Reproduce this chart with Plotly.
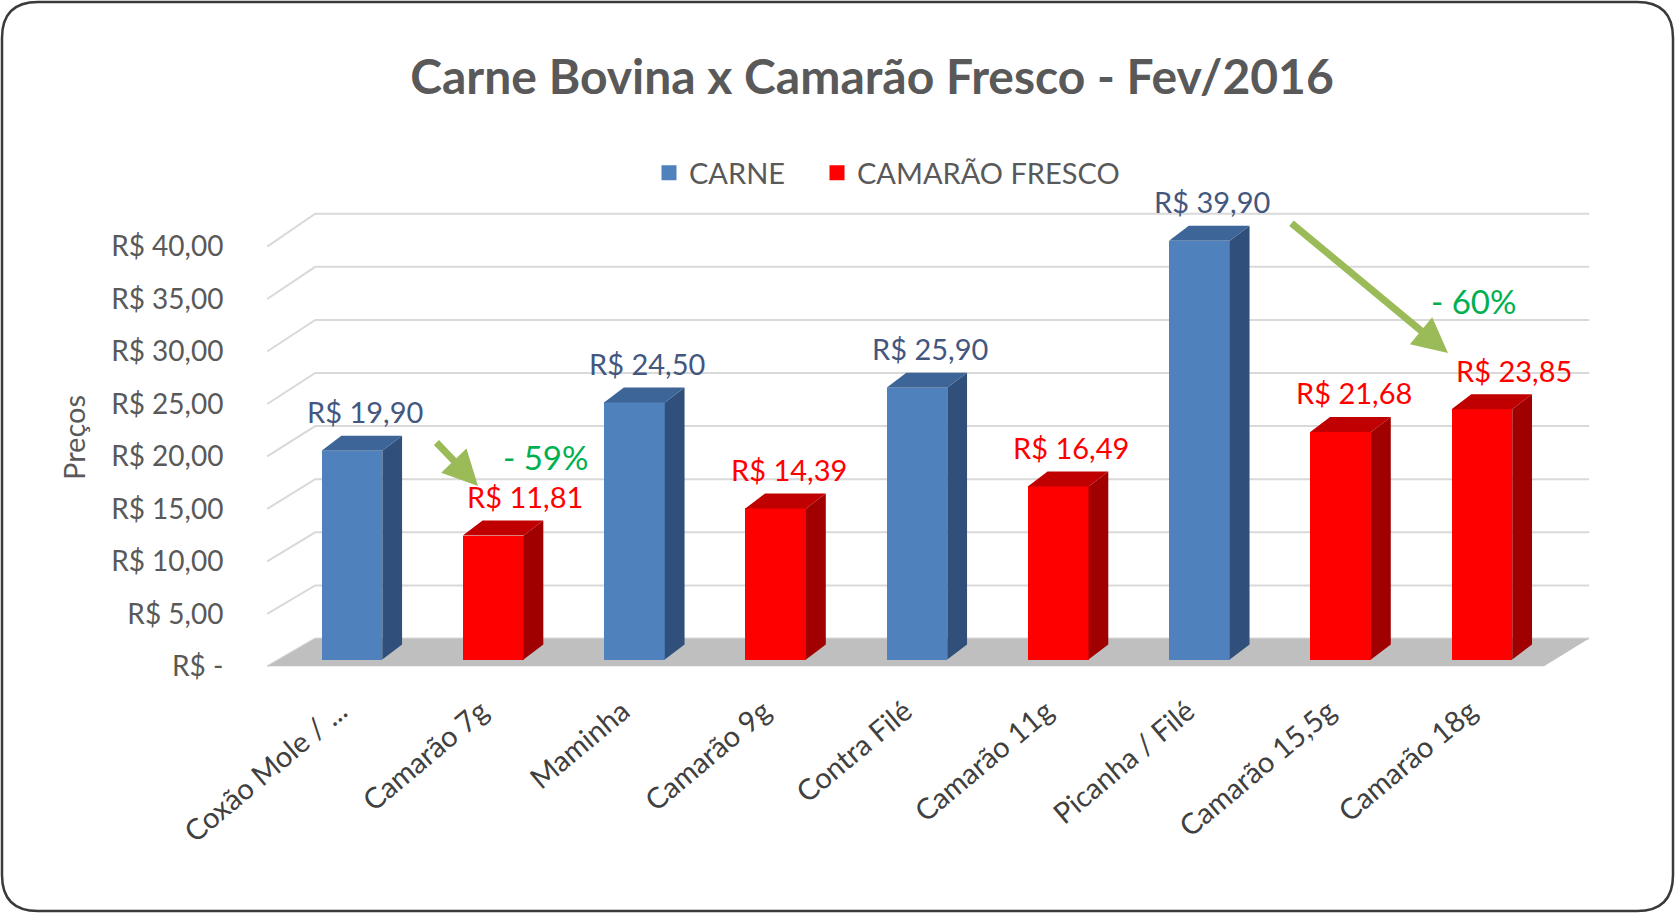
import plotly.graph_objects as go

# ---------------- data ----------------
categories = ["Coxão Mole / ...", "Camarão 7g", "Maminha", "Camarão 9g", "Contra Filé",
              "Camarão 11g", "Picanha / Filé", "Camarão 15,5g", "Camarão 18g"]
carne_cats = ["Coxão Mole / ...", "Maminha", "Contra Filé", "Picanha / Filé"]
carne_vals = [19.90, 24.50, 25.90, 39.90]
camarao_cats = ["Camarão 7g", "Camarão 9g", "Camarão 11g", "Camarão 15,5g", "Camarão 18g"]
camarao_vals = [11.81, 14.39, 16.49, 21.68, 23.85]
y_ticks = [0, 5, 10, 15, 20, 25, 30, 35, 40]
y_ticktext = ["R$ -", "R$ 5,00", "R$ 10,00", "R$ 15,00", "R$ 20,00",
              "R$ 25,00", "R$ 30,00", "R$ 35,00", "R$ 40,00"]
drops = ["- 59%", "- 60%"]

# ---------------- geometry / style ----------------
W, H = 1676, 913
ML, MR, MT, MB = 246, 67, 203, 243
XR = [-0.75, 8.9]
YR = [-1.0, 43.5]
PW, PH = W - ML - MR, H - MT - MB
UX = PW / (XR[1] - XR[0])
UY = PH / (YR[1] - YR[0])

def xd(px):
    return XR[0] + (px - ML) / UX

def yd(py):
    return YR[1] - (py - MT) / UY

def xp(px):
    return (px - ML) / PW

def yp(py):
    return (H - MB - py) / PH

BAR_W = 0.43
DEPTH_X = 0.14
DEPTH_Y = 1.43

BLUE, BLUE_TOP, BLUE_SIDE = "#4f81bd", "#3d6597", "#30507b"
RED, RED_TOP, RED_SIDE = "#ff0000", "#c00000", "#a00000"
FONT = "Lato"

idx = {c: i for i, c in enumerate(categories)}


def faces(cats, vals):
    side_x, side_y, top_x, top_y = [], [], [], []
    for c, v in zip(cats, vals):
        i = idx[c]
        x0, x1 = i - BAR_W / 2, i + BAR_W / 2
        side_x += [x1, x1 + DEPTH_X, x1 + DEPTH_X, x1, x1, None]
        side_y += [0, DEPTH_Y, v + DEPTH_Y, v, 0, None]
        top_x += [x0, x1, x1 + DEPTH_X, x0 + DEPTH_X, x0, None]
        top_y += [v, v, v + DEPTH_Y, v + DEPTH_Y, v, None]
    return side_x, side_y, top_x, top_y


fig = go.Figure()

for name, cats, vals, front, top, side, leg in [
    ("CARNE", carne_cats, carne_vals, BLUE, BLUE_TOP, BLUE_SIDE, "legend"),
    ("CAMARÃO FRESCO", camarao_cats, camarao_vals, RED, RED_TOP, RED_SIDE, "legend2"),
]:
    fig.add_trace(go.Bar(
        x=[idx[c] for c in cats], y=vals, width=BAR_W, name=name, showlegend=False,
        marker=dict(color=front, line=dict(width=0)),
        hovertemplate="%{y:.2f}<extra>" + name + "</extra>",
    ))
    sx, sy, tx, ty = faces(cats, vals)
    fig.add_trace(go.Scatter(x=sx, y=sy, mode="lines", fill="toself", fillcolor=side,
                             line=dict(width=0, color=side), showlegend=False, hoverinfo="skip"))
    fig.add_trace(go.Scatter(x=tx, y=ty, mode="lines", fill="toself", fillcolor=top,
                             line=dict(width=0, color=top), showlegend=False, hoverinfo="skip"))
    # legend key
    fig.add_trace(go.Scatter(x=[None], y=[None], mode="markers", name=name, legend=leg,
                             marker=dict(symbol="square", size=15, color=front), hoverinfo="skip"))

# walls / floor (decorative 3-D frame)
FL_X, BK_X, RT_X, RT_FX = -0.60, -0.26, 8.76, 8.44
front_off = -0.65

def back(v):
    return v * 1.012 + 2.0

shapes = []
for v in y_ticks:
    shapes.append(dict(type="path", layer="below", xref="x", yref="y",
                       path=f"M {FL_X},{v + front_off} L {BK_X},{back(v)} L {RT_X},{back(v)}",
                       line=dict(color="#d9d9d9", width=2)))
shapes.append(dict(type="path", layer="below", xref="x", yref="y",
                   path=f"M {FL_X},{front_off} L {RT_FX},{front_off} L {RT_X},{back(0)} L {BK_X},{back(0)} Z",
                   fillcolor="#bfbfbf", line=dict(width=0)))

# rounded frame
L, T, R, B, RAD = 2, 2, 1673, 911, 36
frame = (f"M {xp(L + RAD)},{yp(T)} L {xp(R - RAD)},{yp(T)} Q {xp(R)},{yp(T)} {xp(R)},{yp(T + RAD)} "
         f"L {xp(R)},{yp(B - RAD)} Q {xp(R)},{yp(B)} {xp(R - RAD)},{yp(B)} "
         f"L {xp(L + RAD)},{yp(B)} Q {xp(L)},{yp(B)} {xp(L)},{yp(B - RAD)} "
         f"L {xp(L)},{yp(T + RAD)} Q {xp(L)},{yp(T)} {xp(L + RAD)},{yp(T)} Z")
shapes.append(dict(type="path", xref="paper", yref="paper", path=frame, layer="above",
                   line=dict(color="#3a3a3a", width=2.5)))

annotations = []
label_nudge = {"Camarão 7g": 22, "Camarão 18g": 22}

def money(v):
    return "R$ " + f"{v:.2f}".replace(".", ",")

for cats, vals, col in [(carne_cats, carne_vals, "#44577f"), (camarao_cats, camarao_vals, "#ff0000")]:
    for c, v in zip(cats, vals):
        annotations.append(dict(x=idx[c] + DEPTH_X / 2, y=v, xref="x", yref="y", text=money(v),
                                showarrow=False, yshift=39, xshift=label_nudge.get(c, 3),
                                font=dict(family=FONT, size=29, color=col)))

# arrows and percentage drops (pixel placement of callouts)
arrow_specs = [((478, 486), (435, 441), (545, 457)), ((1448, 353), (1290, 222), (1473, 301))]
for (tip, tail, txt), pct in zip(arrow_specs, drops):
    annotations.append(dict(x=xd(tip[0]), y=yd(tip[1]), xref="x", yref="y", text="",
                            showarrow=True, ax=tail[0] - tip[0], ay=tail[1] - tip[1],
                            arrowcolor="#9bbb59", arrowwidth=7, arrowhead=2, arrowsize=1.0))
    annotations.append(dict(x=xd(txt[0]), y=yd(txt[1]), xref="x", yref="y", text=pct,
                            showarrow=False, font=dict(family=FONT, size=33, color="#00b050")))

annotations.append(dict(x=xp(73), y=yp(438), xref="paper", yref="paper", text="Preços",
                        textangle=-90, showarrow=False, xanchor="center", yanchor="middle",
                        font=dict(family=FONT, size=29, color="#595959")))

legend_style = dict(orientation="h", yanchor="middle", xanchor="left", itemwidth=30,
                    font=dict(family=FONT, size=29, color="#595959"), bgcolor="rgba(0,0,0,0)")

fig.update_layout(
    width=W, height=H, autosize=False,
    margin=dict(l=ML, r=MR, t=MT, b=MB),
    paper_bgcolor="white", plot_bgcolor="white",
    title=dict(text="<b>Carne Bovina x Camarão Fresco - Fev/2016</b>", x=872 / W, xanchor="center",
               y=1 - 77 / H, yanchor="middle", yref="container",
               font=dict(family=FONT, size=48, color="#595959")),
    legend=dict(x=xp(649), y=yp(173), **legend_style),
    legend2=dict(x=xp(817), y=yp(173), **legend_style),
    bargap=0,
    shapes=shapes,
    annotations=annotations,
    showlegend=True,
)
fig.update_xaxes(range=XR, tickvals=list(range(len(categories))), ticktext=categories,
                 tickangle=-40, showgrid=False, zeroline=False, showline=False,
                 ticks="outside", ticklen=12, tickcolor="rgba(0,0,0,0)", ticklabelshift=-12,
                 tickfont=dict(family=FONT, size=29, color="#404040"))
fig.update_yaxes(range=YR, tickvals=[v + front_off for v in y_ticks], ticktext=y_ticktext,
                 showgrid=False, zeroline=False, showline=False,
                 ticks="outside", ticklen=16, tickcolor="rgba(0,0,0,0)",
                 tickfont=dict(family=FONT, size=28, color="#595959"))

fig.write_html("out.html", config={"displayModeBar": False},
               post_script="document.body.style.margin='0';document.body.style.overflow='hidden';")
